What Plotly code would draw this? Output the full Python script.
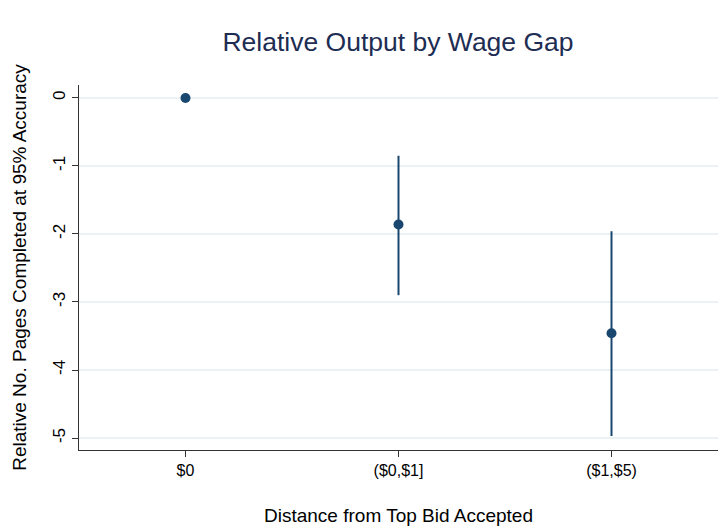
import plotly.graph_objects as go

categories = ["$0", "($0,$1]", "($1,$5)"]
estimates = [0.0, -1.86, -3.46]
ci_upper = [0.0, -0.85, -1.96]
ci_lower = [0.0, -2.90, -4.97]

positions = [1, 2, 3]
err_plus = [u - e for u, e in zip(ci_upper, estimates)]
err_minus = [e - l for e, l in zip(estimates, ci_lower)]

navy = "#1a476f"

fig = go.Figure()
fig.add_trace(go.Scatter(
    x=positions,
    y=estimates,
    mode="markers",
    marker=dict(color=navy, size=10),
    error_y=dict(type="data", symmetric=False, array=err_plus,
                 arrayminus=err_minus, color=navy, thickness=2, width=0),
    showlegend=False,
))

fig.update_layout(
    width=725, height=531,
    margin=dict(l=79, r=7, t=85, b=81),
    paper_bgcolor="white",
    plot_bgcolor="white",
    font=dict(family="Liberation Sans, Arial, sans-serif", color="#000000"),
    title=dict(text="Relative Output by Wage Gap", x=0.549, xanchor="center",
               y=0.921, yanchor="middle",
               font=dict(size=26.5, color="#1e2d53")),
)

fig.update_xaxes(
    range=[0.5, 3.5],
    tickvals=positions,
    ticktext=categories,
    ticks="outside", ticklen=6, tickcolor="#333333", tickwidth=1,
    showline=True, linecolor="#333333", linewidth=1,
    showgrid=False, zeroline=False,
    tickfont=dict(size=16),
    title=dict(text="Distance from Top Bid Accepted", font=dict(size=19), standoff=30),
)

fig.update_yaxes(
    range=[-5.176, 0.19],
    tickvals=[0, -1, -2, -3, -4, -5],
    ticktext=["0", "-1", "-2", "-3", "-4", "-5"],
    tickangle=-90,
    ticks="outside", ticklen=6, tickcolor="#333333", tickwidth=1,
    showline=True, linecolor="#333333", linewidth=1,
    showgrid=True, gridcolor="#eaf2f3", gridwidth=2,
    zeroline=False,
    tickfont=dict(size=17),
    title=dict(text="Relative No. Pages Completed at 95% Accuracy", font=dict(size=19), standoff=18),
)

fig.write_html("out.html")
